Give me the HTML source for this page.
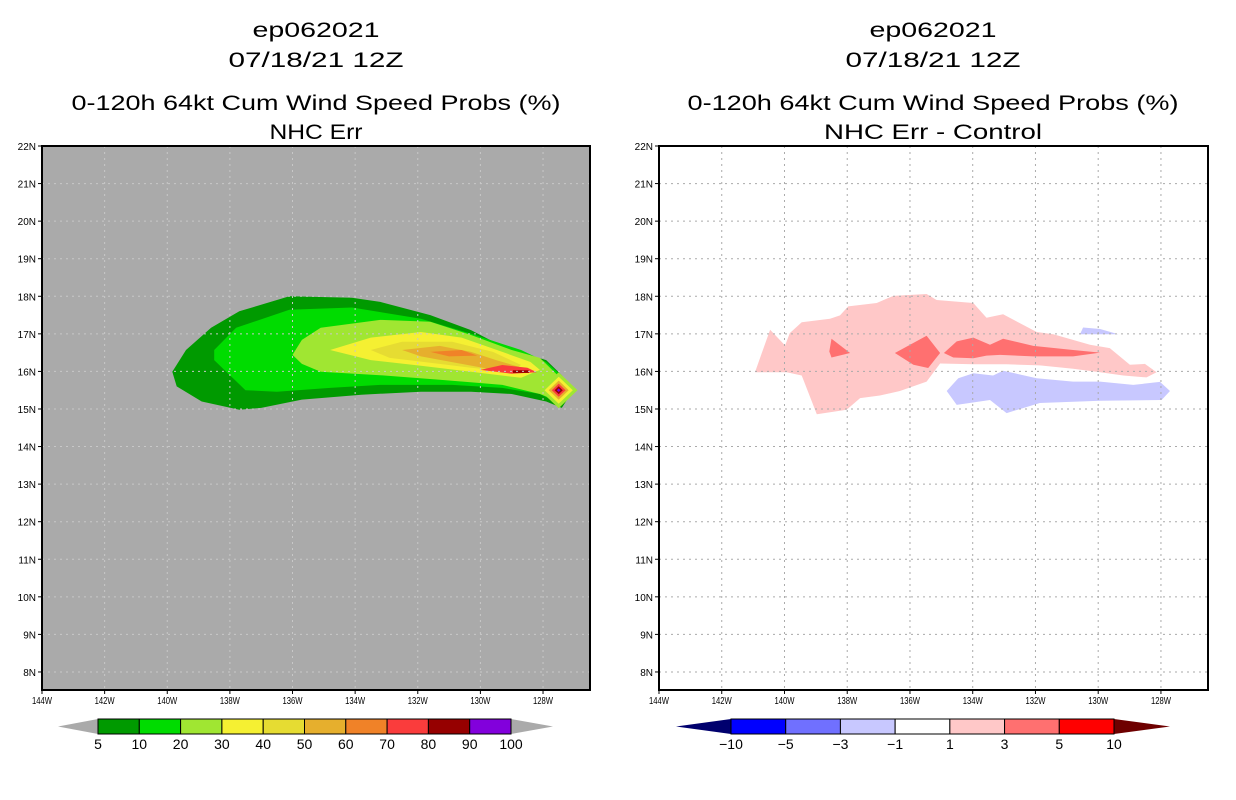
<!DOCTYPE html>
<html><head><meta charset="utf-8"><style>
html,body{margin:0;padding:0;background:#fff;width:1236px;height:800px;overflow:hidden}
svg{display:block}
text{font-family:"Liberation Sans",sans-serif;fill:#000}
</style></head><body>
<svg id="chart" width="1236" height="800" viewBox="0 0 1236 800" xmlns="http://www.w3.org/2000/svg"></svg>
<script>
// ---------- data ----------
const lonTicks = [144,142,140,138,136,134,132,130,128];
const latTicks = [22,21,20,19,18,17,16,15,14,13,12,11,10,9,8];
const leftLevels = [5,10,20,30,40,50,60,70,80,90,100];
const leftColors = ["#009a00","#00dc00","#a0e632","#f5f032","#e6dc32","#e6af2d","#f08228","#fa3c3c","#960000","#8200dc"];
const rightLevels = [-10,-5,-3,-1,1,3,5,10];
const rightColors = ["#0000ff","#7070ff","#c8c8ff","#ffffff","#ffc8c8","#ff7070","#ff0000"];
// left contours: [level index, lon, lat pairs]
const probLevel5 = [[139.84,15.99],[139.4,16.57],[138.6,17.16],[137.7,17.6],[136.1,18.0],[134.1,17.96],[133.2,17.85],[131.6,17.5],[130.3,17.1],[129.7,16.84],[128.7,16.5],[127.9,16.3],[127.4,15.9],[127.04,15.5],[127.4,15.03],[127.9,15.2],[129.0,15.4],[130.3,15.46],[131.9,15.46],[133.8,15.38],[135.7,15.25],[137.0,15.03],[137.7,14.98],[138.9,15.2],[139.7,15.6]];
const probLevel10 = [[138.5,16.57],[137.8,17.16],[136.1,17.64],[134.1,17.7],[131.9,17.4],[130.3,17.0],[128.7,16.57],[127.9,16.25],[127.3,15.8],[127.04,15.5],[127.4,15.1],[128.1,15.4],[129.3,15.56],[130.9,15.64],[133.2,15.64],[134.8,15.56],[136.5,15.46],[137.5,15.5],[138.0,15.9],[138.5,16.3]];
const probLevel20 = [[136,16.44],[135.7,16.84],[135.1,17.16],[133.2,17.37],[131.6,17.32],[130.3,16.97],[129.0,16.57],[128.1,16.36],[127.6,15.95],[127.1,15.5],[127.5,15.2],[128.1,15.4],[129.3,15.64],[131.3,15.78],[133.2,15.9],[135.1,15.99],[135.7,16.2]];
const probLevel30 = [[134.8,16.57],[133.5,16.9],[131.9,17.05],[130.6,16.9],[129.3,16.52],[128.4,16.25],[128.1,16.04],[128.7,15.83],[130.3,15.99],[131.9,16.15],[133.5,16.3]];
const probLevel40 = [[133.5,16.57],[132.5,16.79],[130.9,16.79],[129.6,16.52],[128.7,16.17],[129.0,15.99],[130.3,16.1],[131.9,16.26],[132.9,16.36]];
const probLevel50 = [[132.5,16.57],[131.3,16.68],[130.3,16.52],[129.5,16.3],[128.6,16.08],[129.3,16.0],[130.6,16.2],[131.9,16.4]];
const probLevel60 = [[131.6,16.52],[130.6,16.57],[130.1,16.42],[131.0,16.4]];
const probLevel70 = [[130.0,16.04],[129.3,16.17],[128.5,16.1],[128.2,15.98],[129.0,15.94]];
const probLevel80 = [[128.96,16.03],[128.45,16.03],[128.45,15.96],[128.96,15.96]];
const tipCenter = [127.5,15.5];
const tipRadii = [0.6,0.45,0.32,0.22,0.13,0.06];
const tipLevelIdx = [2,3,5,7,8,9];
// right differences
const diffPos1 = [[140.94,15.98],[140.46,17.11],[139.98,16.69],[139.83,17.02],[139.45,17.31],[138.55,17.40],[138.23,17.49],[137.97,17.73],[137.06,17.82],[136.53,18.01],[135.47,18.06],[135.15,17.90],[133.98,17.82],[133.56,17.43],[133.03,17.52],[131.96,17.05],[131.43,16.99],[130.26,16.71],[129.63,16.62],[128.99,16.18],[128.51,16.20],[128.14,15.98],[128.46,15.84],[129.20,15.89],[129.94,15.98],[130.80,16.07],[131.86,16.16],[132.92,16.19],[133.98,16.19],[135.04,16.21],[135.47,15.73],[136.32,15.48],[136.96,15.36],[137.59,15.29],[138.02,14.98],[138.97,14.86],[139.45,15.89],[139.93,15.98]];
const diffPos3a = [[138.50,16.87],[137.91,16.49],[138.50,16.37],[138.57,16.53]];
const diffPos3b = [[136.48,16.49],[135.47,16.95],[135.04,16.49],[135.42,16.09],[135.89,16.18]];
const diffPos3c = [[134.92,16.49],[134.51,16.80],[133.98,16.90],[133.45,16.71],[133.03,16.87],[132.07,16.68],[130.80,16.57],[129.94,16.50],[130.80,16.40],[132.07,16.40],[133.13,16.44],[133.56,16.42],[133.98,16.35],[134.62,16.37]];
const diffNeg1a = [[134.83,15.48],[134.46,15.82],[133.98,15.95],[133.35,15.89],[133.03,16.02],[131.96,15.82],[130.80,15.73],[129.94,15.73],[128.88,15.64],[128.03,15.72],[127.71,15.48],[127.98,15.24],[129.94,15.22],[131.86,15.16],[132.92,14.89],[133.45,15.24],[134.51,15.11]];
const diffNeg1b = [[130.58,16.99],[130.48,17.17],[129.94,17.13],[129.36,16.99]];

// ---------- drawing ----------
const NS="http://www.w3.org/2000/svg";
const svg=document.getElementById('chart');
function mk(tag,attrs,parent){const e=document.createElementNS(NS,tag);for(const k in attrs)e.setAttribute(k,attrs[k]);(parent||svg).appendChild(e);return e;}
const lonMin=126.5, lonMax=144, latMin=7.52, latMax=22;
function makeAxes(x0,x1,y0,y1){
  return {x:lon=>x0+(lonMax-lon)/(lonMax-lonMin)*(x1-x0), y:lat=>y0+(latMax-lat)/(latMax-latMin)*(y1-y0), x0,x1,y0,y1};
}
function poly(ax,pts,fill,g,name){
  const p=mk('polygon',{points:pts.map(q=>ax.x(q[0]).toFixed(1)+','+ax.y(q[1]).toFixed(1)).join(' '),fill:fill},g);
  
  
  return p;
}
function title(cx,lines){
  const ys=[37,67,110,139];
  lines.forEach((l,i)=>{
    const t=mk('text',{x:cx,y:ys[i],'text-anchor':'middle','font-size':21,textLength:l[1],lengthAdjust:'spacingAndGlyphs'});
    t.textContent=l[0];
    
    
  });
}
function frame(ax,bg,gridColor,name){
  const g=mk('g',{});
  
  
  const r=mk('rect',{x:ax.x0,y:ax.y0,width:ax.x1-ax.x0,height:ax.y1-ax.y0,fill:bg},g);
  
  
  return g;
}
function gridAndAxes(ax,gridColor){
  const g=mk('g',{});
  
  
  lonTicks.forEach(l=>{const x=ax.x(l);
    if(l<144){const gl=mk('line',{x1:x,x2:x,y1:ax.y0,y2:ax.y1,stroke:gridColor,'stroke-width':1,'stroke-dasharray':'2,4'},g);
    }
    mk('line',{x1:x,x2:x,y1:ax.y1,y2:ax.y1+4,stroke:'#000'},g);
    const t=mk('text',{x:x,y:ax.y1+14,'text-anchor':'middle','font-size':10,textLength:20,lengthAdjust:'spacingAndGlyphs'},g);
    t.textContent=l+'W';
    
  });
  latTicks.forEach(l=>{const y=ax.y(l);
    if(l<22){const gl=mk('line',{x1:ax.x0,x2:ax.x1,y1:y,y2:y,stroke:gridColor,'stroke-width':1,'stroke-dasharray':'2,4'},g);
    }
    mk('line',{x1:ax.x0-4,x2:ax.x0,y1:y,y2:y,stroke:'#000'},g);
    const t=mk('text',{x:ax.x0-6,y:y+4,'text-anchor':'end','font-size':10},g);
    t.textContent=l+'N';
    
  });
  const b=mk('rect',{x:ax.x0,y:ax.y0,width:ax.x1-ax.x0,height:ax.y1-ax.y0,fill:'none',stroke:'#000','stroke-width':2},g);
  
}
function colorbar(x0,x1,triL,triR,y,h,colors,labels,leftTri,rightTri,name){
  const g=mk('g',{});
  
  
  const tl=mk('polygon',{points:`${triL},${y+h/2} ${x0},${y} ${x0},${y+h}`,fill:leftTri},g);
  
  const tr=mk('polygon',{points:`${triR},${y+h/2} ${x1},${y} ${x1},${y+h}`,fill:rightTri},g);
  
  const w=(x1-x0)/colors.length;
  colors.forEach((c,i)=>{const r=mk('rect',{x:x0+i*w,y:y,width:w,height:h,fill:c,stroke:'#000','stroke-width':1},g);
    });
  labels.forEach((l,i)=>{const t=mk('text',{x:x0+i*w,y:y+h+15,'text-anchor':'middle','font-size':14},g);
    t.textContent=String(l).replace('-','\u2212');
    });
}

// left panel
const axL=makeAxes(42,590,146,690);
title(316,[["ep062021",127],["07/18/21 12Z",175],["0-120h 64kt Cum Wind Speed Probs (%)",489],["NHC Err",93]]);
const gL=frame(axL,'#aaaaaa','#c8c8c8','left-plot');
[probLevel5,probLevel10,probLevel20,probLevel30,probLevel40,probLevel50,probLevel60,probLevel70,probLevel80].forEach((p,i)=>poly(axL,p,leftColors[i],gL,'prob-contour-'+leftLevels[i]));
tipRadii.forEach((r,i)=>{const c=tipCenter;
  poly(axL,[[c[0]-r,c[1]],[c[0],c[1]+r*0.8],[c[0]+r,c[1]],[c[0],c[1]-r*0.8]],leftColors[tipLevelIdx[i]],gL,'tip-contour-'+leftLevels[tipLevelIdx[i]]);});
gridAndAxes(axL,'#c8c8c8');
colorbar(98,511,58,553,719,15,leftColors,leftLevels,'#aaaaaa','#aaaaaa','left-colorbar');

// right panel
const axR=makeAxes(659,1208,146,690);
title(933,[["ep062021",127],["07/18/21 12Z",175],["0-120h 64kt Cum Wind Speed Probs (%)",491],["NHC Err - Control",218]]);
const gR=frame(axR,'#ffffff','#aaaaaa','right-plot');
poly(axR,diffPos1,rightColors[4],gR,'diff-contour-pos1');
poly(axR,diffPos3a,rightColors[5],gR,'diff-contour-pos3');
poly(axR,diffPos3b,rightColors[5],gR,'diff-contour-pos3');
poly(axR,diffPos3c,rightColors[5],gR,'diff-contour-pos3');
poly(axR,diffNeg1a,rightColors[2],gR,'diff-contour-neg1');
poly(axR,diffNeg1b,rightColors[2],gR,'diff-contour-neg1');
gridAndAxes(axR,'#aaaaaa');
colorbar(731,1114,676,1170,719,15,rightColors,rightLevels,'#00006e','#6e0000','right-colorbar');
</script>
</body></html>
